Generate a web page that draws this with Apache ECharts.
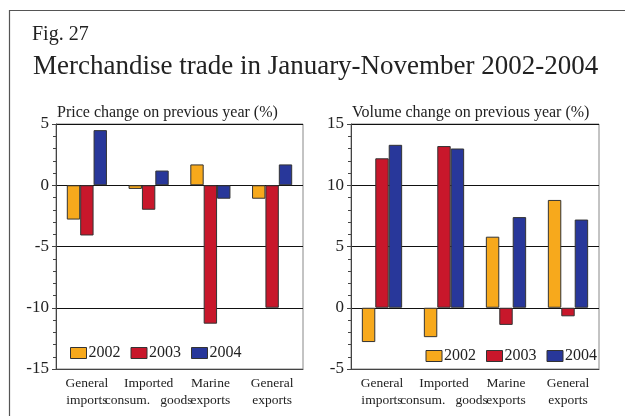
<!DOCTYPE html>
<html>
<head>
<meta charset="utf-8">
<script src="https://cdn.jsdelivr.net/npm/echarts@6/dist/echarts.min.js"></script>
<style>
html,body{margin:0;padding:0;background:#fff;}
#chart{width:625px;height:416px;}
</style>
</head>
<body>
<div id="chart"></div>
<script>
const categories = ['General\nimports', 'Imported\nconsum.   goods', 'Marine\nexports', 'General\nexports'];
const years = ['2002', '2003', '2004'];
const colors = ['#F7A91C', '#C8172B', '#28379A'];

const price2002 = [-2.8, -0.3, 1.7, -1.1];
const price2003 = [-4.1, -2.0, -11.3, -10.0];
const price2004 = [4.5, 1.2, -1.1, 1.7];

const volume2002 = [-2.8, -2.4, 5.8, 8.8];
const volume2003 = [12.2, 13.2, -1.4, -0.7];
const volume2004 = [13.3, 13.0, 7.4, 7.2];

const priceTicks = { min: -15, max: 5, interval: 5 };
const volumeTicks = { min: -5, max: 15, interval: 5 };

const FONT = '"Liberation Serif", "Times New Roman", serif';
const TXT = '#222';

function xAxisCfg(gi) {
  return {
    type: 'category', gridIndex: gi, data: categories,
    axisLine: { onZero: false, lineStyle: { color: '#444', width: 1 } },
    axisTick: { alignWithLabel: true, length: 4, lineStyle: { color: '#444' } },
    axisLabel: { fontFamily: FONT, fontSize: 13.5, color: TXT, lineHeight: 17, margin: 6, interval: 0 },
    splitLine: { show: false }
  };
}
function yAxisCfg(gi, t) {
  return {
    type: 'value', gridIndex: gi, min: t.min, max: t.max, interval: t.interval,
    axisLine: { show: true, lineStyle: { color: '#444', width: 1 } },
    axisTick: { show: true, length: 4, lineStyle: { color: '#444' } },
    minorTick: { show: true, splitNumber: 5, length: 3, lineStyle: { color: '#444' } },
    axisLabel: { fontFamily: FONT, fontSize: 17, color: TXT, margin: 7 },
    splitLine: { show: true, lineStyle: { color: '#111', width: 1 } }
  };
}
function barSeries(name, data, gi, ci) {
  return {
    name: name, type: 'bar', xAxisIndex: gi, yAxisIndex: gi, data: data,
    barGap: '0%', barCategoryGap: '35%',
    itemStyle: { color: colors[ci], borderColor: '#333', borderWidth: 1 },
    emphasis: { disabled: true }
  };
}
function titleCfg(text, left, top, size) {
  return { text: text, left: left, top: top, padding: 0,
    textStyle: { fontFamily: FONT, fontSize: size, fontWeight: 'normal', color: TXT } };
}
function legendCfg(pos) {
  return Object.assign({
    data: years, itemWidth: 16, itemHeight: 11, itemGap: 10, padding: 0,
    icon: 'rect', selectedMode: false,
    textStyle: { fontFamily: FONT, fontSize: 16, color: TXT, padding: [0, 0, 0, -3] },
    itemStyle: { borderColor: '#333', borderWidth: 1 }
  }, pos);
}

const chart = echarts.init(document.getElementById('chart'), null, { renderer: 'canvas' });
chart.setOption({
  animation: false,
  backgroundColor: '#fff',
  color: colors,
  title: [
    titleCfg('Fig. 27', 32, 25, 20),
    titleCfg('Merchandise trade in January-November 2002-2004', 33, 53, 27),
    titleCfg('Price change on previous year (%)', 57, 105, 16),
    titleCfg('Volume change on previous year (%)', 352, 105, 16)
  ],
  legend: [
    legendCfg({ left: 70, top: 345 }),
    legendCfg({ right: 28, top: 348 })
  ],
  grid: [
    { left: 56, right: 322, top: 124, bottom: 47, show: true, borderColor: '#888', borderWidth: 1, backgroundColor: 'transparent' },
    { left: 351, right: 26, top: 124, bottom: 47, show: true, borderColor: '#888', borderWidth: 1, backgroundColor: 'transparent' }
  ],
  xAxis: [xAxisCfg(0), xAxisCfg(1)],
  yAxis: [yAxisCfg(0, priceTicks), yAxisCfg(1, volumeTicks)],
  series: [
    barSeries('2002', price2002, 0, 0),
    barSeries('2003', price2003, 0, 1),
    barSeries('2004', price2004, 0, 2),
    barSeries('2002', volume2002, 1, 0),
    barSeries('2003', volume2003, 1, 1),
    barSeries('2004', volume2004, 1, 2)
  ],
  graphic: [
    { type: 'rect', left: 7, top: 8, shape: { x: 0, y: 0, width: 700, height: 500 }, style: { fill: 'none', stroke: '#555', lineWidth: 1.2 }, silent: true, z: -1 }
  ]
});
</script>
</body>
</html>
